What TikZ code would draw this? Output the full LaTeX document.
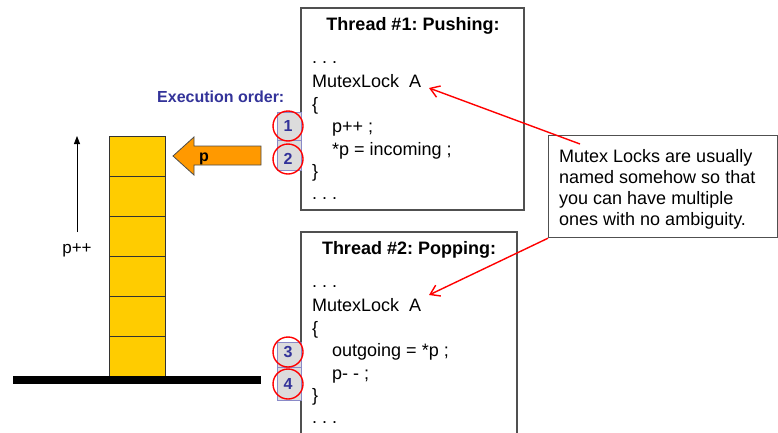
\documentclass[tikz,border=0pt]{standalone}
\usepackage{fontspec}
\setmainfont{Liberation Sans}
\usetikzlibrary{arrows.meta}
\frenchspacing
\definecolor{stackyellow}{HTML}{FFCC00}
\definecolor{arroworange}{HTML}{FF9900}
\definecolor{badgeblue}{HTML}{333399}
\definecolor{badgeedge}{HTML}{8A8AC8}
\definecolor{badgefill}{HTML}{DCDCDC}
\definecolor{boxedge}{HTML}{505050}
\tikzset{
  codebox/.style={draw=boxedge, line width=1.2pt, fill=white},
  code/.style={inner sep=0pt, anchor=base west, font=\fontsize{18}{22}\selectfont},
  codetitle/.style={inner sep=0pt, anchor=base, font=\fontsize{18}{22}\selectfont\bfseries},
  cell/.style={draw=black!80, line width=1pt, fill=stackyellow, minimum width=56pt, minimum height=40pt, inner sep=0pt, anchor=north west},
  badgerect/.style={draw=badgeedge, fill=badgefill, line width=0.8pt, minimum width=24pt, inner sep=0pt, anchor=north west},
  badgering/.style={draw=red, line width=1.4pt, circle, minimum size=30pt, inner sep=0pt},
  badgenum/.style={font=\fontsize{16}{16}\selectfont\bfseries, text=badgeblue, inner sep=0pt},
  redarrow/.style={draw=red, line width=1.4pt, -{Straight Barb[length=9pt,width=12pt,line width=1.4pt]}},
}
\begin{document}
\begin{tikzpicture}[x=1pt, y=-1pt]
\useasboundingbox (0,0) rectangle (778,432);
\begin{scope}
\clip (0,0) rectangle (778,432);
% thread boxes
\draw[codebox] (301,8) rectangle (524,210);
\draw[codebox] (301,232) rectangle (517,445);
\end{scope}

% thread 1 text
\node[codetitle] (title1) at (413,30) {Thread \#1: Pushing:};
\node[code] (d1a) at (312,63) {. . .};
\node[code] (ml1) at (312,87) {MutexLock\ \ A};
\node[code] (ob1) at (312,110) {\{};
\node[code] (l1a) at (332,132) {p++ ;};
\node[code] (l1b) at (332,155) {*p = incoming ;};
\node[code] (cb1) at (312,177) {\}};
\node[code] (d1b) at (312,199) {. . .};

% thread 2 text
\node[codetitle] (title2) at (409,254) {Thread \#2: Popping:};
\node[code] (d2a) at (312,287) {. . .};
\node[code] (ml2) at (312,311) {MutexLock\ \ A};
\node[code] (ob2) at (312,334) {\{};
\node[code] (l2a) at (332,356) {outgoing = *p ;};
\node[code] (l2b) at (332,379) {p- - ;};
\node[code] (cb2) at (312,401) {\}};
\node[code] (d2b) at (312,423) {. . .};

% execution order
\node[inner sep=0pt, anchor=base west, font=\fontsize{16}{16}\selectfont\bfseries, text=badgeblue] (exec) at (157,102) {Execution order:};

% badges
\node[badgerect, minimum height=28pt] (r1) at (277,112) {};
\node[badgerect, minimum height=30pt] (r2) at (277,140) {};
\node[badgerect, minimum height=25pt] (r3) at (277,342) {};
\node[badgerect, minimum height=33pt] (r4) at (277,367) {};
\node[badgering] (c1) at (288,126) {};
\node[badgering] (c2) at (288,159) {};
\node[badgering] (c3) at (288,352) {};
\node[badgering] (c4) at (288,384) {};
\node[badgenum] at (c1) {1};
\node[badgenum] at (c2) {2};
\node[badgenum] at (c3) {3};
\node[badgenum] at (c4) {4};

% stack
\foreach \i in {0,...,5} {
  \node[cell] (s\i) at (109,136+40*\i) {};
}
\node[fill=black, minimum width=248pt, minimum height=8pt, inner sep=0pt, anchor=north west] (ground) at (13,376) {};

% p++ arrow
\coordinate (pbot) at (77,232);
\coordinate (ptop) at (77,136);
\draw[line width=0.8pt, -{Triangle[length=8pt,width=6pt]}] (pbot) -- (ptop);
\node[inner sep=0pt, anchor=base, font=\fontsize{17}{17}\selectfont] (pplus) at (77,253) {p++};

% orange pointer arrow
\draw[fill=arroworange, draw=black!70, line width=0.8pt] (261,146) -- (194,146) -- (194,137) -- (173,156) -- (194,175) -- (194,165) -- (261,165) -- cycle;
\node[inner sep=0pt, anchor=base west, font=\fontsize{16}{16}\selectfont\bfseries] (plabel) at (199,161) {p};

% note box
\node[draw=boxedge, line width=1.2pt, fill=white, anchor=north west, minimum width=229pt, minimum height=102pt, inner sep=0pt] (note) at (548,135) {};
\node[code] (nt1) at (559,162) {Mutex Locks are usually};
\node[code] (nt2) at (559,183) {named somehow so that};
\node[code] (nt3) at (559,204) {you can have multiple};
\node[code] (nt4) at (559,225) {ones with no ambiguity.};

% red arrows
\coordinate (n1) at (580,144);
\coordinate (n2) at (note.south west);
\coordinate (a1) at (429,88);
\coordinate (a2) at (429,295);
\draw[redarrow] (n1) -- (a1);
\draw[redarrow] (n2) -- (a2);
\end{tikzpicture}
\end{document}
